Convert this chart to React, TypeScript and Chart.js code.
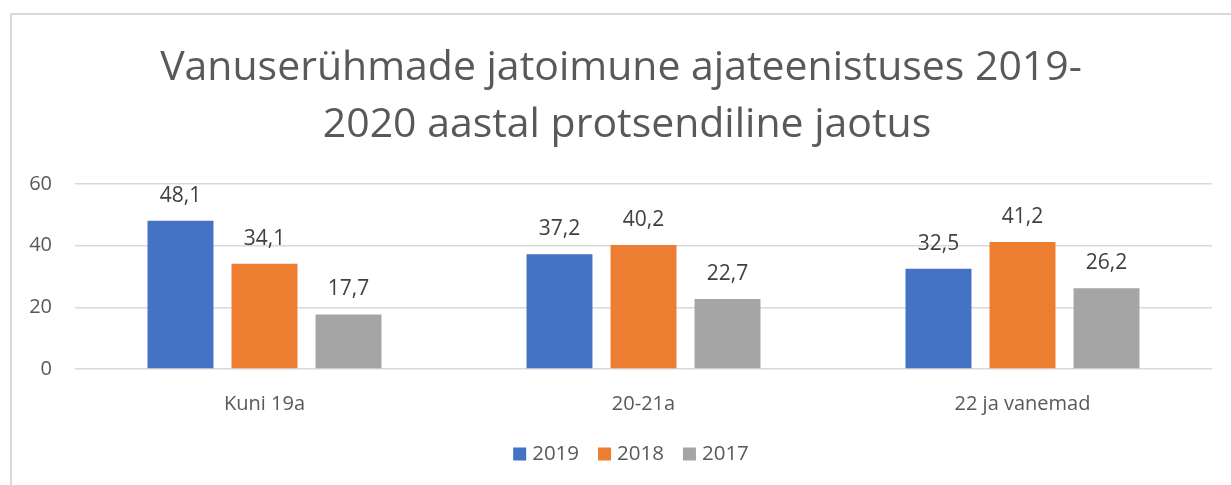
import React, { useEffect, useRef } from "react";
import { Chart, registerables } from "chart.js";

Chart.register(...registerables);

const categories = ["Kuni 19a", "20-21a", "22 ja vanemad"];
const seriesLabels = ["2019", "2018", "2017"];
const values2019 = [48.1, 37.2, 32.5];
const values2018 = [34.1, 40.2, 41.2];
const values2017 = [17.7, 22.7, 26.2];
const seriesColors = ["#4472C4", "#ED7D31", "#A5A5A5"];
const yTicks = [0, 20, 40, 60];
const titleLines = [
  "Vanuserühmade jatoimune ajateenistuses 2019-",
  "2020 aastal protsendiline jaotus",
];

const FONT = "'Open Sans', sans-serif";
const TEXT_COLOR = "#595959";
const LABEL_COLOR = "#404040";

const titlePlugin = {
  id: "customTitle",
  afterDraw(chart: any) {
    const ctx = chart.ctx;
    ctx.save();
    let size = 44;
    ctx.font = `${size}px ${FONT}`;
    const w = ctx.measureText(titleLines[0]).width;
    size = (size * 922) / w;
    ctx.font = `${size}px ${FONT}`;
    ctx.fillStyle = TEXT_COLOR;
    ctx.textAlign = "center";
    ctx.textBaseline = "alphabetic";
    ctx.fillText(titleLines[0], 621, 80);
    ctx.fillText(titleLines[1], 627, 137);
    ctx.restore();
  },
};

const dataLabelPlugin = {
  id: "dataLabels",
  afterDatasetsDraw(chart: any) {
    const ctx = chart.ctx;
    ctx.save();
    ctx.font = `21px ${FONT}`;
    ctx.fillStyle = LABEL_COLOR;
    ctx.textAlign = "center";
    ctx.textBaseline = "middle";
    chart.data.datasets.forEach((ds: any, di: number) => {
      const meta = chart.getDatasetMeta(di);
      meta.data.forEach((bar: any, i: number) => {
        const v = ds.data[i] as number;
        ctx.fillText(v.toFixed(1).replace(".", ","), bar.x, bar.y - 25);
      });
    });
    ctx.restore();
  },
};

const legendPlugin = {
  id: "customLegend",
  afterDraw(chart: any) {
    const ctx = chart.ctx;
    ctx.save();
    ctx.font = `20.5px ${FONT}`;
    ctx.textBaseline = "middle";
    ctx.textAlign = "left";
    const box = 13;
    const gapText = 6;
    const gapItem = 19;
    const items = chart.data.datasets.map((ds: any) => ({
      label: ds.label,
      color: ds.backgroundColor,
      w: ctx.measureText(ds.label).width,
    }));
    const total =
      items.reduce((s: number, it: any) => s + box + gapText + it.w, 0) +
      gapItem * (items.length - 1);
    let x = 631 - total / 2;
    const cy = 454;
    items.forEach((it: any) => {
      ctx.fillStyle = it.color;
      ctx.fillRect(x, cy - box / 2, box, box);
      x += box + gapText;
      ctx.fillStyle = TEXT_COLOR;
      ctx.fillText(it.label, x, cy);
      x += it.w + gapItem;
    });
    ctx.restore();
  },
};

export default function App() {
  const canvasRef = useRef<HTMLCanvasElement | null>(null);

  useEffect(() => {
    document.body.style.margin = "0";
    const canvas = canvasRef.current;
    if (!canvas) return;
    const seriesValues = [values2019, values2018, values2017];
    const chart = new Chart(canvas, {
      type: "bar",
      data: {
        labels: categories,
        datasets: seriesLabels.map((label, i) => ({
          label,
          data: seriesValues[i],
          backgroundColor: seriesColors[i],
          borderWidth: 0,
          categoryPercentage: 0.665,
          barPercentage: 0.785,
        })),
      },
      options: {
        responsive: false,
        animation: false,
        devicePixelRatio: 1,
        layout: { padding: { top: 184, bottom: 66, left: 0, right: 19 } },
        plugins: {
          legend: { display: false },
          title: { display: false },
          tooltip: { enabled: false },
        },
        scales: {
          x: {
            grid: { display: false, drawTicks: false },
            border: { display: false },
            ticks: {
              font: { family: FONT, size: 20 },
              color: TEXT_COLOR,
              padding: 23,
              maxRotation: 0,
            },
            afterFit(scale: any) {
              scale.height = 50;
            },
          },
          y: {
            min: 0,
            max: 60,
            afterBuildTicks(scale: any) {
              scale.ticks = yTicks.map((v) => ({ value: v }));
            },
            grid: { color: "#D9D9D9", lineWidth: 1.5, drawTicks: false },
            border: { display: false },
            ticks: {
              font: { family: FONT, size: 20 },
              color: TEXT_COLOR,
              padding: 23,
            },
            afterFit(scale: any) {
              scale.width = 75;
            },
          },
        },
      },
      plugins: [titlePlugin, dataLabelPlugin, legendPlugin],
    });
    return () => chart.destroy();
  }, []);

  return (
    <div
      style={{
        position: "fixed",
        left: 0,
        top: 0,
        width: 1231,
        height: 485,
        background: "#ffffff",
        overflow: "hidden",
      }}
    >
      <div
        style={{
          position: "absolute",
          left: 10,
          top: 13,
          width: 1300,
          height: 600,
          borderTop: "2px solid #D9D9D9",
          borderLeft: "2px solid #D9D9D9",
        }}
      />
      <canvas
        ref={canvasRef}
        width={1231}
        height={485}
        style={{ position: "absolute", left: 0, top: 0, width: 1231, height: 485 }}
      />
    </div>
  );
}
